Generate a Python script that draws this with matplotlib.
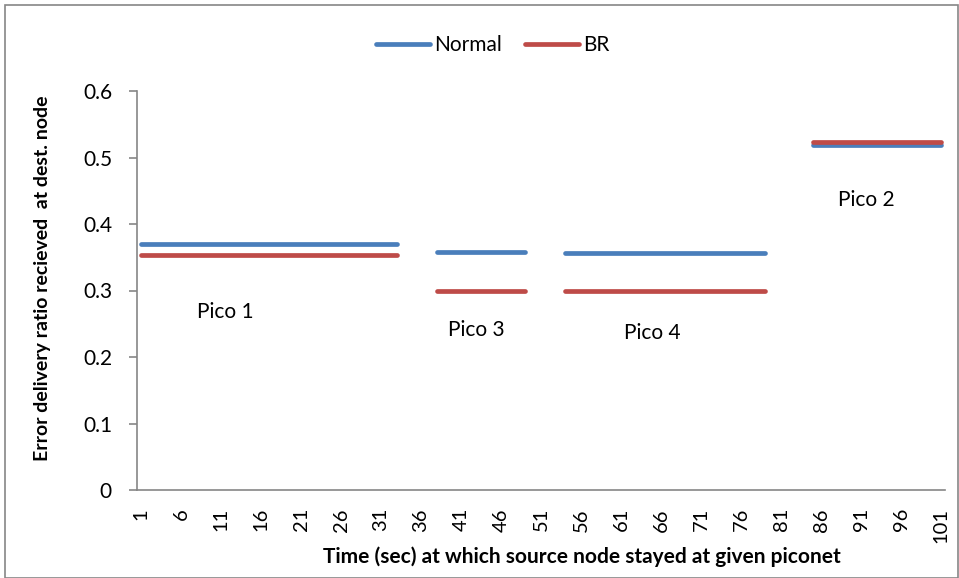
import matplotlib
matplotlib.use("Agg")
import matplotlib.pyplot as plt
from matplotlib.lines import Line2D
from matplotlib.patches import Rectangle
import numpy as np

plt.rcParams['font.family'] = ['Lato', 'DejaVu Sans']

# categories (seconds)
categories = list(range(1, 102))
tick_labels = [str(c) for c in categories if (c - 1) % 5 == 0]

# segments: (start second, end second)
seg_starts = [1, 38, 54, 85]
seg_ends = [33, 49, 79, 101]
normal_values = [0.370, 0.358, 0.356, 0.519]
br_values = [0.353, 0.300, 0.300, 0.524]
seg_names = ["Pico 1", "Pico 3", "Pico 4", "Pico 2"]
label_pos_x = [11.6, 42.9, 64.9, 91.7]
label_pos_y = [0.268, 0.241, 0.236, 0.436]

blue = "#4A7EBB"
red = "#BE4B48"

fig = plt.figure(figsize=(9.59, 5.78), dpi=100)
ax = fig.add_axes([137/959, 88/578, (945-137)/959, (490-91)/578])

for s, e, v in zip(seg_starts, seg_ends, normal_values):
    ax.plot([s, e], [v, v], color=blue, lw=3.4, solid_capstyle='round')
for s, e, v in zip(seg_starts, seg_ends, br_values):
    ax.plot([s, e], [v, v], color=red, lw=3.4, solid_capstyle='round')

for name, x, y in zip(seg_names, label_pos_x, label_pos_y):
    ax.text(x, y, name, ha='center', va='center', fontsize=15)

ax.set_xlim(0.5, 101.5)
ax.set_ylim(0, 0.6)
ax.set_yticks(np.arange(0, 0.61, 0.1))
ax.set_yticklabels(['0', '0.1', '0.2', '0.3', '0.4', '0.5', '0.6'], fontsize=15)
ax.set_xticks([c for c in categories if (c - 1) % 5 == 0])
ax.set_xticklabels(tick_labels, rotation=90, fontsize=14.5)
ax.tick_params(axis='x', length=0, pad=13)
ax.tick_params(axis='y', length=6, color='#868686', pad=12, direction='out', width=1.2)
for sp in ['top', 'right']:
    ax.spines[sp].set_visible(False)
for sp in ['left', 'bottom']:
    ax.spines[sp].set_color('#868686')
    ax.spines[sp].set_linewidth(1.2)

fig.text(43/959, 1 - 278/578, "Error delivery ratio recieved  at dest. node",
         rotation=90, ha='center', va='center', fontsize=14, fontweight='bold')
fig.text(582/959, 1 - 557/578, "Time (sec) at which source node stayed at given piconet",
         ha='center', va='center', fontsize=15, fontweight='bold')

handles = [Line2D([0], [0], color=blue, lw=3.4, solid_capstyle='round'),
           Line2D([0], [0], color=red, lw=3.4, solid_capstyle='round')]
fig.legend(handles, ["Normal", "BR"], loc='center', bbox_to_anchor=(493/959, 1 - 45/578),
           ncol=2, frameon=False, fontsize=15, handlelength=2.6, handletextpad=0.2,
           columnspacing=1.1, borderpad=0)

fig.patches.append(Rectangle((5/959, 0), 953/959, 573/578, transform=fig.transFigure,
                             fill=False, edgecolor='#868686', lw=1.2))

fig.savefig("out.png", dpi=100)
